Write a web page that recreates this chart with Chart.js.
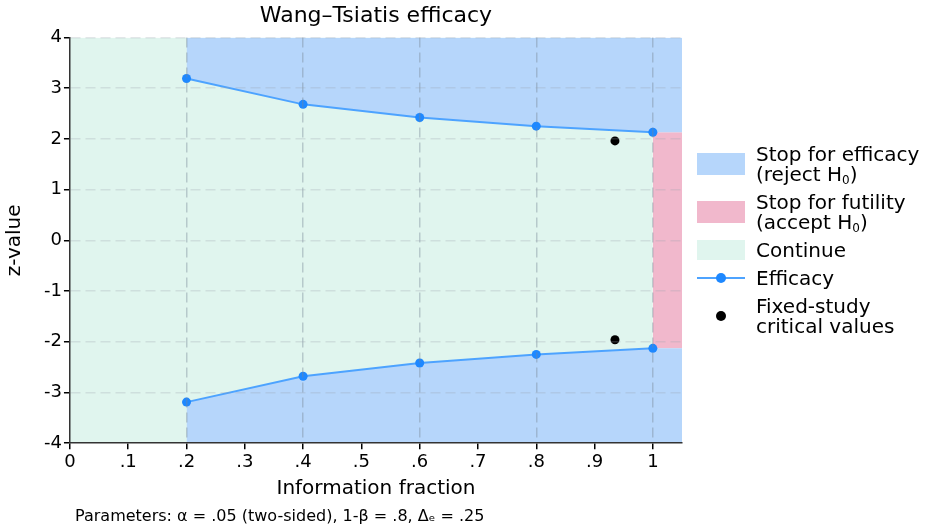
<!DOCTYPE html>
<html>
<head>
<meta charset="utf-8">
<script src="https://cdn.jsdelivr.net/npm/chart.js@4"></script>
<style>
  html, body { margin: 0; padding: 0; background: #fff; }
  #wrap { position: relative; width: 928px; height: 528px; font-family: "DejaVu Sans", sans-serif; }
  #legend { position: absolute; left: 697px; top: 144px; font-size: 20px; line-height: 20px; color: #000; }
  .item { display: flex; align-items: center; margin-bottom: 8px; }
  .sw { width: 48px; height: 22px; margin-right: 11px; flex: none; position: relative; }
  .sw.short { height: 20px; }
  .line { position: absolute; left: 0; right: 0; top: 9px; height: 2px; background: #4da3ff; }
  .dot { position: absolute; left: 19px; top: 5px; width: 10px; height: 10px; border-radius: 50%; }
  sub { font-size: 12px; vertical-align: -3px; line-height: 0; }
</style>
</head>
<body>
<div id="wrap">
  <canvas id="chart" width="928" height="528"></canvas>
  <div id="legend">
    <div class="item"><div class="sw" style="background:#b6d6fb"></div><div>Stop for efficacy<br>(reject H<sub>0</sub>)</div></div>
    <div class="item"><div class="sw" style="background:#f1b8cc"></div><div>Stop for futility<br>(accept H<sub>0</sub>)</div></div>
    <div class="item"><div class="sw short" style="background:#e0f5ee"></div><div>Continue</div></div>
    <div class="item"><div class="sw short"><div class="line"></div><div class="dot" style="background:#1e88ff"></div></div><div>Efficacy</div></div>
    <div class="item"><div class="sw short"><div class="dot" style="background:#000"></div></div><div>Fixed-study<br>critical values</div></div>
  </div>
</div>
<script>
// information fractions of the looks and the efficacy boundary (upper; lower is mirrored)
const looks = [0.2, 0.4, 0.6, 0.8, 1.0];
const upperBound = [3.19, 2.68, 2.42, 2.25, 2.13];
const lowerBound = [-3.19, -2.68, -2.42, -2.25, -2.13];
const fixedX = 0.935;
const fixedCrit = [1.96, -1.96];
const xMax = 1.05;
const xTicks = [0, 0.1, 0.2, 0.3, 0.4, 0.5, 0.6, 0.7, 0.8, 0.9, 1];
const yTicks = [-4, -3, -2, -1, 0, 1, 2, 3, 4];

const blue = "#b6d6fb";
const pink = "#f1b8cc";
const green = "#e0f5ee";

const upperPts = looks.map((x, i) => ({ x: x, y: upperBound[i] }));
const lowerPts = looks.map((x, i) => ({ x: x, y: lowerBound[i] }));
const lastUp = upperBound[upperBound.length - 1];
const lastLo = lowerBound[lowerBound.length - 1];

const fillDs = (data, fill, color, order) => ({
  data: data, fill: fill, backgroundColor: color, borderWidth: 0,
  pointRadius: 0, tension: 0, order: order
});

const chart = new Chart(document.querySelector("#chart"), {
  type: "line",
  data: {
    datasets: [
      // continue region
      fillDs([{ x: 0, y: 4 }, { x: 1, y: 4 }], { value: -4 }, green, 6),
      // efficacy regions
      fillDs([...upperPts, { x: xMax, y: lastUp }], "end", blue, 5),
      fillDs([...lowerPts, { x: xMax, y: lastLo }], "start", blue, 5),
      // futility region at the final look
      fillDs([{ x: 1, y: lastUp }, { x: xMax, y: lastUp }], { value: lastLo }, pink, 5),
      {
        data: upperPts, borderColor: "#4da3ff", borderWidth: 2, backgroundColor: "#1e88ff",
        pointRadius: 4.5, pointBorderWidth: 0, fill: false, order: 2
      },
      {
        data: lowerPts, borderColor: "#4da3ff", borderWidth: 2, backgroundColor: "#1e88ff",
        pointRadius: 4.5, pointBorderWidth: 0, fill: false, order: 2
      },
      {
        data: fixedCrit.map(y => ({ x: fixedX, y: y })), showLine: false,
        backgroundColor: "#000", pointRadius: 4.5, pointBorderWidth: 0, order: 1
      }
    ]
  },
  options: {
    responsive: false,
    animation: false,
    layout: { padding: { left: 0, right: 246, top: 3, bottom: 2 } },
    plugins: {
      legend: { display: false },
      tooltip: { enabled: false },
      title: {
        display: true, text: "Wang\u2013Tsiatis efficacy", fullSize: false,
        color: "#000", font: { family: "DejaVu Sans", size: 22, weight: "normal" },
        padding: { top: 0, bottom: 8 }
      },
      subtitle: {
        display: true, position: "bottom", align: "start", fullSize: false,
        text: " Parameters: \u03b1 = .05 (two-sided), 1-\u03b2 = .8, \u0394\u2091 = .25",
        color: "#000", font: { family: "DejaVu Sans", size: 16 },
        padding: { top: 3, bottom: 0 }
      }
    },
    scales: {
      x: {
        type: "linear", min: 0, max: xMax,
        afterBuildTicks: s => { s.ticks = xTicks.map(v => ({ value: v })); },
        ticks: {
          color: "#000", font: { family: "DejaVu Sans", size: 18 }, padding: 2, maxRotation: 0,
          callback: v => (v === 0 || v === 1) ? String(v) : String(Math.round(v * 10) / 10).replace(/^0/, "")
        },
        grid: {
          z: 1, tickLength: 6, tickColor: "#000", lineWidth: 1.5, tickBorderDash: [],
          color: c => [0.2, 0.4, 0.6, 0.8, 1].some(v => Math.abs(c.tick.value - v) < 1e-6) ? "rgba(120,135,150,0.4)" : "rgba(0,0,0,0)"
        },
        border: { display: true, z: 1, color: "#333", width: 1.5, dash: [10, 5] },
        title: {
          display: true, text: "Information fraction", color: "#000",
          font: { family: "DejaVu Sans", size: 20 }, padding: { top: 2, bottom: 3 }
        }
      },
      y: {
        type: "linear", min: -4, max: 4,
        afterBuildTicks: s => { s.ticks = yTicks.map(v => ({ value: v })); },
        ticks: {
          color: "#000", font: { family: "DejaVu Sans", size: 18 }, padding: 2,
          callback: v => String(v)
        },
        grid: {
          z: 1, tickLength: 6, tickColor: "#000", lineWidth: 1.5, tickBorderDash: [],
          color: c => c.tick.value === -4 ? "rgba(0,0,0,0)" : "rgba(150,160,170,0.25)"
        },
        border: { display: true, z: 1, color: "#333", width: 1.5, dash: [10, 5] },
        title: {
          display: true, text: "z-value", color: "#000",
          font: { family: "DejaVu Sans", size: 20 }, padding: { top: 3, bottom: 15 }
        }
      }
    }
  }
});
</script>
</body>
</html>
